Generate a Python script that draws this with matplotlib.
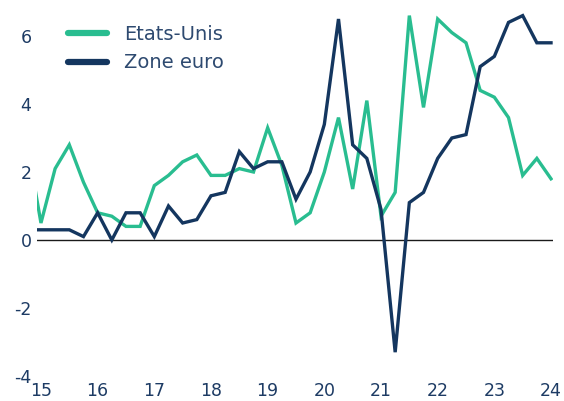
import numpy as np
import matplotlib.pyplot as plt

plt.rcParams["axes.unicode_minus"] = False

# quarterly points, 2014Q4 .. 2024Q1
quarters = np.arange(-1, 37)
us = [2.9, 0.5, 2.1, 2.8, 1.7, 0.8, 0.7, 0.4, 0.4, 1.6, 1.9, 2.3, 2.5,
      1.9, 1.9, 2.1, 2.0, 3.3, 2.2, 0.5, 0.8, 2.0, 3.6, 1.5, 4.1,
      0.7, 1.4, 6.6, 3.9, 6.5, 6.1, 5.8, 4.4, 4.2, 3.6, 1.9, 2.4, 1.8]
ez = [0.3, 0.3, 0.3, 0.3, 0.1, 0.8, 0.0, 0.8, 0.8, 0.1, 1.0, 0.5, 0.6,
      1.3, 1.4, 2.6, 2.1, 2.3, 2.3, 1.2, 2.0, 3.4, 6.5, 2.8, 2.4,
      0.9, -3.3, 1.1, 1.4, 2.4, 3.0, 3.1, 5.1, 5.4, 6.4, 6.6, 5.8, 5.8]
year_ticks = list(range(2015, 2025))
year_labels = [str(y)[2:] for y in year_ticks]
y_ticks = [-4, -2, 0, 2, 4, 6]

green = "#29bd90"
navy = "#14365f"
txt = "#1d3b64"

x = 2015 + quarters / 4

fig = plt.figure(figsize=(5.64, 4.01), dpi=100)
ax = fig.add_axes([37 / 564, 25 / 401, 516 / 564, 374 / 401])

ax.plot(x, us, color=green, lw=2.4, label="Etats-Unis", solid_joinstyle="miter")
ax.plot(x, ez, color=navy, lw=2.4, label="Zone euro", solid_joinstyle="miter")
ax.axhline(0, color="#1a1a1a", lw=1.0, zorder=0)

ax.set_xlim(2014.93, 2024.035)
ax.set_ylim(-4, 7)
ax.set_xticks(year_ticks)
ax.set_xticklabels(year_labels)
ax.set_yticks(y_ticks)
ax.tick_params(length=0, labelsize=12.5, labelcolor=txt)
ax.tick_params(axis="x", pad=4)
ax.tick_params(axis="y", pad=4)
for s in ax.spines.values():
    s.set_visible(False)

leg = ax.legend(loc="upper left", bbox_to_anchor=(0.045, 0.96), frameon=False,
                fontsize=14, handlelength=2.0, handletextpad=0.9,
                labelspacing=0.5, borderaxespad=0)
for h in leg.get_lines():
    h.set_linewidth(4.5)
    h.set_solid_capstyle("round")
for t in leg.get_texts():
    t.set_color("#2e4a70")

fig.savefig("out.png", dpi=100)
